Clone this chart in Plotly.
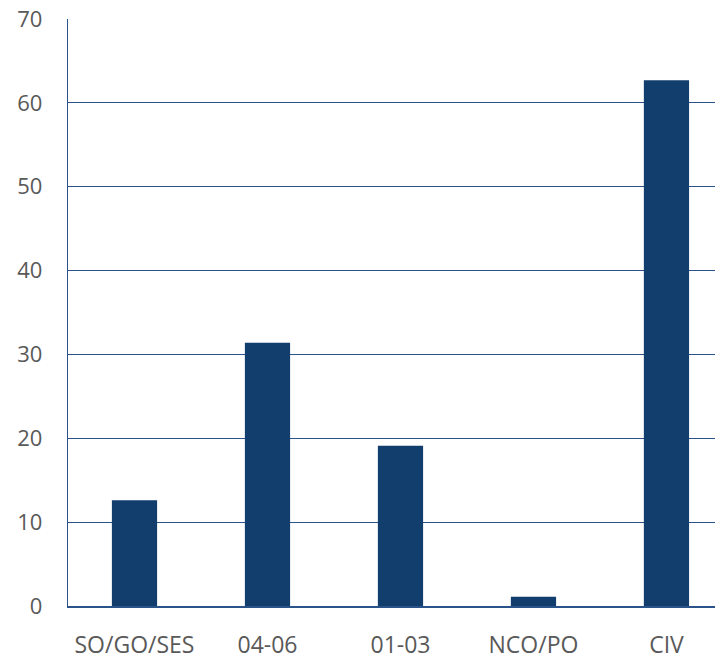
import plotly.graph_objects as go

categories = ["SO/GO/SES", "04-06", "01-03", "NCO/PO", "CIV"]
values = [12.6, 31.4, 19.1, 1.1, 62.7]
y_ticks = [0, 10, 20, 30, 40, 50, 60, 70]

fig = go.Figure(go.Bar(x=categories, y=values, marker_color="#123e6e",
                       marker_line_width=0, width=0.34))

fig.update_layout(
    width=715, height=659,
    margin=dict(l=68, r=0, t=19, b=53),
    plot_bgcolor="white", paper_bgcolor="white",
    showlegend=False,
    font=dict(family="Open Sans, Noto Sans, sans-serif", size=22, color="#595959"),
)
fig.update_xaxes(type="category", range=[-0.5, 4.365], showgrid=False, showline=True,
                 linecolor="#2a5389", linewidth=1.5, ticks="", ticklabelstandoff=18,
                 automargin=False, tickfont=dict(size=23, color="#595959"))
fig.update_yaxes(range=[0, 70], tickvals=y_ticks, showgrid=True,
                 gridcolor="#2a5389", gridwidth=1.3, showline=True,
                 linecolor="#2a5389", linewidth=1.3, zeroline=False, ticks="",
                 automargin=False,
                 ticklabelstandoff=20, tickfont=dict(size=22, color="#595959"))

fig.write_html("out.html", config={"displayModeBar": False})

with open("out.html", "r", encoding="utf-8") as f:
    html = f.read()
html = html.replace("<head>", "<head><style>html,body{margin:0;padding:0;overflow:hidden}</style>", 1)
with open("out.html", "w", encoding="utf-8") as f:
    f.write(html)
